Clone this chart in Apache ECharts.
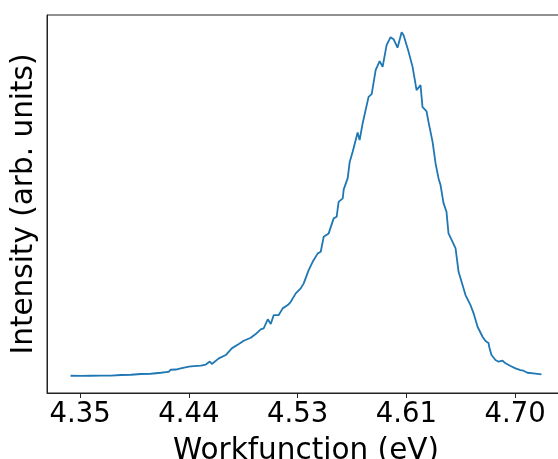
<!DOCTYPE html>
<html>
<head>
<meta charset="utf-8">
<script src="https://cdn.jsdelivr.net/npm/echarts@6/dist/echarts.min.js"></script>
<style>
html,body{margin:0;padding:0;background:#fff;}
#chart{width:558px;height:459px;}
</style>
</head>
<body>
<div id="chart"></div>
<script>
// Workfunction (eV)
const workfunction = [4.3422,4.3506,4.3586,4.3666,4.3747,4.3827,4.3908,4.3988,4.4068,4.4149,4.4189,4.4213,4.4229,4.4269,4.4309,4.4374,4.4414,4.4470,4.4510,4.4543,4.4559,4.4575,4.4615,4.4671,4.4719,4.4735,4.4776,4.4816,4.4872,4.4912,4.4952,4.4976,4.5009,4.5033,4.5057,4.5097,4.5129,4.5170,4.5194,4.5234,4.5274,4.5298,4.5338,4.5370,4.5411,4.5435,4.5459,4.5499,4.5539,4.5563,4.5579,4.5612,4.5620,4.5652,4.5668,4.5692,4.5732,4.5748,4.5772,4.5820,4.5845,4.5877,4.5909,4.5933,4.5941,4.5965,4.5997,4.6021,4.6053,4.6086,4.6102,4.6118,4.6142,4.6174,4.6190,4.6206,4.6222,4.6238,4.6254,4.6286,4.6302,4.6335,4.6359,4.6383,4.6399,4.6423,4.6447,4.6463,4.6496,4.6520,4.6544,4.6576,4.6600,4.6640,4.6665,4.6697,4.6737,4.6761,4.6785,4.6793,4.6809,4.6841,4.6866,4.6898,4.6922,4.6962,4.7002,4.7042,4.7066,4.7098,4.7146,4.7211];
// Intensity (arb. units)
const intensity = [0.0066,0.0064,0.0066,0.0069,0.0072,0.0087,0.0095,0.0116,0.0124,0.0153,0.0173,0.0182,0.0240,0.0246,0.0280,0.0327,0.0347,0.0361,0.0390,0.0477,0.0405,0.0405,0.0569,0.0665,0.0858,0.0847,0.0983,0.1078,0.1165,0.1272,0.1408,0.1436,0.1697,0.1561,0.1821,0.1821,0.2014,0.2110,0.2205,0.2448,0.2592,0.2737,0.3121,0.3361,0.3604,0.3650,0.4084,0.4182,0.4616,0.4662,0.5095,0.5194,0.5454,0.5780,0.6243,0.6540,0.7101,0.6879,0.7361,0.8130,0.8208,0.8902,0.9162,0.8997,0.9017,0.9624,0.9855,0.9798,0.9552,1.0000,0.9913,0.9928,0.9431,0.8997,0.8662,0.8324,0.8275,0.8468,0.7832,0.7717,0.7408,0.6830,0.6205,0.5772,0.5578,0.5058,0.4806,0.4182,0.3939,0.3749,0.3072,0.2688,0.2399,0.2110,0.1870,0.1483,0.1194,0.1069,0.1012,0.0867,0.0665,0.0520,0.0471,0.0500,0.0425,0.0347,0.0280,0.0231,0.0211,0.0153,0.0136,0.0107];
const tickValues = [4.35, 4.4375, 4.525, 4.6125, 4.70];
const tickLabels = ['4.35', '4.44', '4.53', '4.61', '4.70'];

const xMinD = Math.min(...workfunction), xMaxD = Math.max(...workfunction);
const yMinD = Math.min(...intensity), yMaxD = Math.max(...intensity);
const xm = 0.05 * (xMaxD - xMinD), ym = 0.05 * (yMaxD - yMinD);

const chart = echarts.init(document.getElementById('chart'), null, {renderer: 'canvas'});
const font = 'DejaVu Sans';
chart.setOption({
  animation: false,
  backgroundColor: '#fff',
  grid: {left: 47, top: 15, bottom: 66, right: -7, containLabel: false, outerBoundsMode: 'none',
         show: true, borderColor: '#222', borderWidth: 1, backgroundColor: 'transparent'},
  xAxis: {
    type: 'value',
    min: xMinD - xm,
    max: xMaxD + xm,
    name: 'Workfunction (eV)',
    nameLocation: 'middle',
    nameGap: 43,
    nameTextStyle: {fontFamily: font, fontSize: 29.5, color: '#000'},
    axisLine: {show: true, onZero: false, lineStyle: {color: '#222', width: 1}},
    axisTick: {show: true, customValues: tickValues, length: 5, inside: false, lineStyle: {color: '#222', width: 1}},
    axisLabel: {
      customValues: tickValues,
      fontFamily: font, fontSize: 27.5, color: '#000', margin: 8,
      formatter: function (v) {
        const i = tickValues.findIndex(t => Math.abs(t - v) < 1e-6);
        return i >= 0 ? tickLabels[i] : '';
      }
    },
    splitLine: {show: false}
  },
  yAxis: {
    type: 'value',
    min: yMinD - ym,
    max: yMaxD + ym,
    name: 'Intensity (arb. units)',
    nameLocation: 'middle',
    nameRotate: 90,
    nameGap: 8,
    nameTextStyle: {fontFamily: font, fontSize: 29.5, color: '#000'},
    axisLine: {show: true, onZero: false, lineStyle: {color: '#222', width: 1}},
    axisTick: {show: false},
    axisLabel: {show: false},
    splitLine: {show: false}
  },
  series: [{
    type: 'line',
    data: workfunction.map((x, i) => [x, intensity[i]]),
    showSymbol: false,
    symbol: 'none',
    lineStyle: {color: '#1f77b4', width: 1.8},
    clip: true
  }]
});
</script>
</body>
</html>
